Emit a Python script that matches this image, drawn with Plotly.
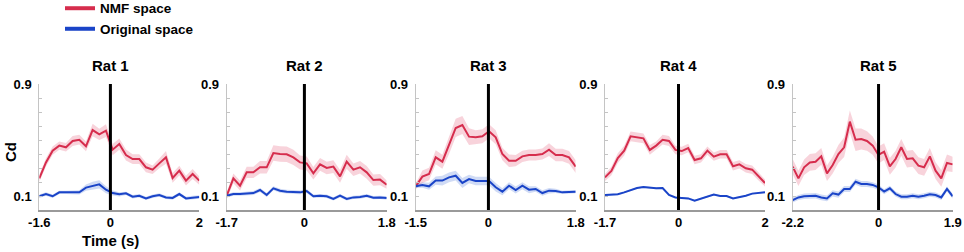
import numpy as np
import plotly.graph_objects as go

# ---------------- data ----------------
panel_titles = ["Rat 1", "Rat 2", "Rat 3", "Rat 4", "Rat 5"]
t_start = [-1.6, -1.7, -1.5, -1.7, -2.2]
t_end = [2.0, 1.8, 1.8, 2.0, 1.9]
x_tick_labels = [["-1.6", "0", "2"], ["-1.7", "0", "1.8"], ["-1.5", "0", "1.8"],
                 ["-1.7", "0", "2"], ["-2.2", "0", "1.9"]]
y_tick_vals = [0.1, 0.9]
y_tick_labels = ["0.1", "0.9"]

nmf_rat1 = [0.226, 0.340, 0.424, 0.460, 0.448, 0.493, 0.502, 0.455, 0.571, 0.540, 0.567, 0.431, 0.471,
            0.393, 0.364, 0.364, 0.305, 0.288, 0.333, 0.376, 0.229, 0.281, 0.210, 0.257, 0.210]
nmf_err_rat1 = [0.025, 0.03, 0.03, 0.03, 0.03, 0.035, 0.035, 0.035, 0.045, 0.04, 0.045, 0.04, 0.04,
                0.04, 0.035, 0.035, 0.035, 0.03, 0.035, 0.045, 0.035, 0.035, 0.035, 0.035, 0.03]
orig_rat1 = [0.098, 0.114, 0.098, 0.126, 0.126, 0.126, 0.126, 0.160, 0.174, 0.183, 0.145, 0.121, 0.112,
             0.119, 0.095, 0.102, 0.083, 0.098, 0.107, 0.090, 0.086, 0.114, 0.083, 0.090, 0.093]
orig_err_rat1 = [0.012, 0.012, 0.012, 0.012, 0.012, 0.012, 0.015, 0.022, 0.027, 0.03, 0.025, 0.018, 0.015,
                 0.012, 0.012, 0.012, 0.012, 0.012, 0.012, 0.012, 0.012, 0.012, 0.012, 0.012, 0.012]

nmf_rat2 = [0.102, 0.226, 0.174, 0.269, 0.269, 0.305, 0.305, 0.407, 0.400, 0.398, 0.376, 0.340, 0.333,
            0.262, 0.326, 0.300, 0.310, 0.240, 0.345, 0.288, 0.305, 0.269, 0.214, 0.217, 0.181]
nmf_err_rat2 = [0.025, 0.035, 0.035, 0.04, 0.04, 0.045, 0.045, 0.055, 0.055, 0.055, 0.055, 0.05, 0.05,
                0.045, 0.045, 0.045, 0.045, 0.045, 0.05, 0.045, 0.045, 0.045, 0.04, 0.04, 0.03]
orig_rat2 = [0.102, 0.114, 0.114, 0.119, 0.121, 0.143, 0.107, 0.155, 0.138, 0.131, 0.126, 0.126, 0.136,
             0.098, 0.102, 0.098, 0.079, 0.102, 0.079, 0.090, 0.093, 0.102, 0.088, 0.090, 0.086]
orig_err_rat2 = [0.012, 0.012, 0.012, 0.012, 0.014, 0.014, 0.014, 0.014, 0.014, 0.014, 0.014, 0.014, 0.014,
                 0.012, 0.012, 0.012, 0.012, 0.012, 0.012, 0.012, 0.012, 0.012, 0.012, 0.012, 0.012]

nmf_rat3 = [0.169, 0.238, 0.257, 0.376, 0.345, 0.460, 0.586, 0.607, 0.524, 0.519, 0.526, 0.562, 0.519,
            0.400, 0.352, 0.352, 0.383, 0.393, 0.393, 0.400, 0.431, 0.393, 0.393, 0.376, 0.310]
nmf_err_rat3 = [0.02, 0.045, 0.045, 0.05, 0.05, 0.06, 0.065, 0.065, 0.06, 0.05, 0.05, 0.05, 0.05,
                0.045, 0.045, 0.04, 0.04, 0.04, 0.04, 0.04, 0.045, 0.045, 0.045, 0.045, 0.045]
orig_rat3 = [0.169, 0.179, 0.169, 0.210, 0.210, 0.233, 0.245, 0.193, 0.221, 0.207, 0.207, 0.207, 0.162,
             0.131, 0.174, 0.143, 0.174, 0.145, 0.150, 0.121, 0.138, 0.136, 0.126, 0.131, 0.131]
orig_err_rat3 = [0.012, 0.02, 0.025, 0.03, 0.035, 0.035, 0.035, 0.035, 0.03, 0.03, 0.03, 0.03, 0.03,
                 0.025, 0.025, 0.025, 0.025, 0.025, 0.02, 0.02, 0.02, 0.015, 0.012, 0.012, 0.012]

nmf_rat4 = [0.233, 0.279, 0.371, 0.424, 0.526, 0.521, 0.512, 0.429, 0.460, 0.502, 0.493, 0.429, 0.421,
            0.443, 0.357, 0.369, 0.424, 0.381, 0.398, 0.398, 0.312, 0.326, 0.298, 0.288, 0.240, 0.193]
nmf_err_rat4 = [0.025, 0.03, 0.035, 0.035, 0.035, 0.035, 0.035, 0.035, 0.03, 0.035, 0.035, 0.03, 0.03,
                0.03, 0.03, 0.03, 0.03, 0.03, 0.03, 0.03, 0.03, 0.03, 0.03, 0.03, 0.03, 0.025]
orig_rat4 = [0.107, 0.107, 0.112, 0.126, 0.143, 0.157, 0.164, 0.160, 0.155, 0.157, 0.107, 0.090, 0.086,
             0.083, 0.067, 0.083, 0.098, 0.110, 0.100, 0.100, 0.083, 0.090, 0.102, 0.117, 0.121, 0.126]
orig_err_rat4 = [0.006] * 26

nmf_rat5 = [0.310, 0.226, 0.305, 0.340, 0.345, 0.383, 0.262, 0.321, 0.400, 0.448, 0.631, 0.502, 0.507,
            0.493, 0.460, 0.393, 0.417, 0.312, 0.364, 0.448, 0.364, 0.369, 0.317, 0.305, 0.383, 0.281,
            0.226, 0.336, 0.326]
nmf_err_rat5 = [0.055, 0.055, 0.055, 0.06, 0.06, 0.06, 0.055, 0.06, 0.065, 0.07, 0.08, 0.08, 0.075,
                0.07, 0.065, 0.06, 0.06, 0.06, 0.06, 0.06, 0.06, 0.06, 0.06, 0.06, 0.06, 0.06,
                0.06, 0.06, 0.055]
orig_rat5 = [0.071, 0.090, 0.098, 0.102, 0.102, 0.090, 0.083, 0.119, 0.110, 0.150, 0.150, 0.202, 0.186,
             0.186, 0.179, 0.162, 0.131, 0.155, 0.114, 0.095, 0.095, 0.102, 0.095, 0.102, 0.112, 0.107,
             0.090, 0.150, 0.098]
orig_err_rat5 = [0.018, 0.018, 0.02, 0.02, 0.02, 0.02, 0.02, 0.022, 0.022, 0.022, 0.022, 0.022, 0.022,
                 0.022, 0.02, 0.02, 0.018, 0.018, 0.018, 0.018, 0.018, 0.018, 0.018, 0.018, 0.018, 0.018,
                 0.018, 0.018, 0.018]

nmf_series = [nmf_rat1, nmf_rat2, nmf_rat3, nmf_rat4, nmf_rat5]
nmf_errs = [nmf_err_rat1, nmf_err_rat2, nmf_err_rat3, nmf_err_rat4, nmf_err_rat5]
orig_series = [orig_rat1, orig_rat2, orig_rat3, orig_rat4, orig_rat5]
orig_errs = [orig_err_rat1, orig_err_rat2, orig_err_rat3, orig_err_rat4, orig_err_rat5]

# ---------------- styling ----------------
W, H = 964, 252
RED = "#D62D4D"
BLUE = "#1A44C8"
RED_FILL = "rgba(228,80,110,0.25)"
BLUE_FILL = "rgba(40,90,210,0.22)"
FONT = "Liberation Sans, Arial, sans-serif"
panel_left_px = [39.3, 226.7, 415.7, 605.0, 792.7]
panel_w_px = 160
plot_top_px, plot_bot_px = 84, 210

fig = go.Figure()

def add_band(x, y, e, color, fill, xa, ya):
    y = np.asarray(y); e = np.asarray(e)
    fig.add_trace(go.Scatter(x=x, y=y + e, mode="lines", line=dict(width=0, color=fill),
                             xaxis=xa, yaxis=ya, showlegend=False, hoverinfo="skip"))
    fig.add_trace(go.Scatter(x=x, y=y - e, mode="lines", line=dict(width=0, color=fill),
                             fill="tonexty", fillcolor=fill,
                             xaxis=xa, yaxis=ya, showlegend=False, hoverinfo="skip"))
    fig.add_trace(go.Scatter(x=x, y=y, mode="lines", line=dict(width=2, color=color),
                             xaxis=xa, yaxis=ya, showlegend=False))

# legend entries
fig.add_trace(go.Scatter(x=[None], y=[None], mode="lines", name="NMF space",
                         line=dict(color=RED, width=4)))
fig.add_trace(go.Scatter(x=[None], y=[None], mode="lines", name="Original space",
                         line=dict(color=BLUE, width=4)))

layout = {}
for i in range(5):
    n = i + 1
    xa = "x" if n == 1 else f"x{n}"
    ya = "y" if n == 1 else f"y{n}"
    tn_red = np.linspace(t_start[i], t_end[i], len(nmf_series[i]))
    tn_blue = np.linspace(t_start[i], t_end[i], len(orig_series[i]))
    add_band(tn_red, nmf_series[i], nmf_errs[i], RED, RED_FILL, xa, ya)
    add_band(tn_blue, orig_series[i], orig_errs[i], BLUE, BLUE_FILL, xa, ya)

    x0 = panel_left_px[i] / W
    x1 = (panel_left_px[i] + panel_w_px) / W
    layout[f"xaxis{'' if n == 1 else n}"] = dict(
        domain=[x0, x1], range=[t_start[i], t_end[i]], anchor=ya,
        tickvals=[t_start[i], 0, t_end[i]], ticktext=x_tick_labels[i],
        showline=True, linecolor="#9a9a9a", linewidth=1.5, ticks="",
        showgrid=False, zeroline=False, automargin=False,
        tickfont=dict(family=FONT, size=13, color="black", weight="bold"),
    )
    layout[f"yaxis{'' if n == 1 else n}"] = dict(
        domain=[1 - plot_bot_px / H, 1 - plot_top_px / H], range=[0, 0.9], anchor=xa,
        tickvals=y_tick_vals, ticktext=y_tick_labels,
        showline=True, linecolor="#c4c4c4", linewidth=1, ticks="inside", ticklen=3,
        tickcolor="#c4c4c4",
        minor=dict(dtick=0.1, tick0=0, ticks="inside", ticklen=3, tickcolor="#c4c4c4"),
        showgrid=False, zeroline=False, ticklabelstandoff=4, automargin=False,
        tickfont=dict(family=FONT, size=13, color="black", weight="bold"),
    )
    fig.add_shape(type="line", xref=xa, yref=f"{ya} domain", x0=0, x1=0, y0=0, y1=1,
                  line=dict(color="black", width=3))
    fig.add_annotation(text=panel_titles[i], xref=xa, yref="paper", x=0, y=1 - 66 / H,
                       showarrow=False, xanchor="center", yanchor="middle",
                       font=dict(family=FONT, size=15, color="black", weight="bold"))

fig.add_annotation(text="Time (s)", xref="x", yref="paper", x=0, y=1 - 240 / H,
                   showarrow=False, xanchor="center", yanchor="middle",
                   font=dict(family=FONT, size=15, color="black", weight="bold"))
fig.add_annotation(text="Cd", xref="paper", yref="paper", x=10 / W, y=1 - 152 / H,
                   showarrow=False, xanchor="center", yanchor="middle", textangle=-90,
                   font=dict(family=FONT, size=15, color="black", weight="bold"))

fig.update_layout(
    width=W, height=H, margin=dict(l=0, r=0, t=0, b=0, autoexpand=False),
    paper_bgcolor="white", plot_bgcolor="white",
    showlegend=True,
    legend=dict(x=60 / W, y=1.028, xanchor="left", yanchor="top", bgcolor="rgba(0,0,0,0)",
                font=dict(family=FONT, size=13.5, color="black", weight="bold"),
                traceorder="normal", tracegroupgap=0, itemwidth=30),
    **layout,
)

fig.write_html("out.html", config={"displayModeBar": False},
               post_script="document.body.style.margin='0';document.body.style.overflow='hidden';")
